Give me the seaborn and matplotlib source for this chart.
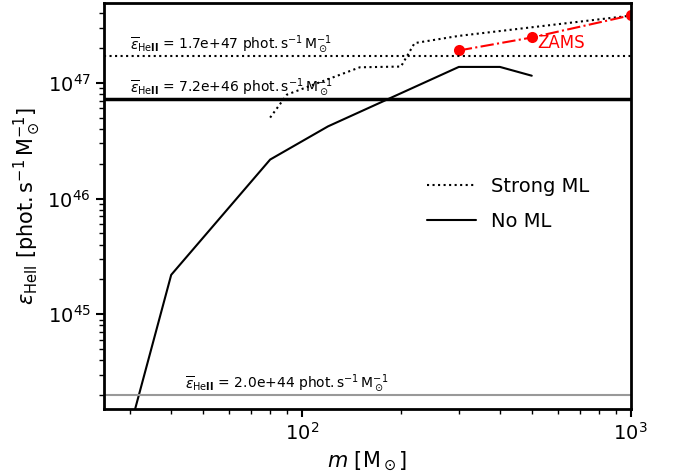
import matplotlib
matplotlib.use("Agg")
import matplotlib.pyplot as plt
import seaborn as sns
import numpy as np
import pandas as pd
from matplotlib.lines import Line2D

# ---- data ----
mass_noml = [30, 40, 80, 120, 300, 400, 500]
eps_noml = [1.05e44, 2.19e45, 2.17e46, 4.2e46, 1.37e47, 1.37e47, 1.15e47]

mass_strong = [80, 90, 150, 200, 220, 300, 1000]
eps_strong = [5.0e46, 7.9e46, 1.36e47, 1.38e47, 2.2e47, 2.54e47, 3.8e47]

mass_zams = [300, 500, 1000]
eps_zams = [1.9e47, 2.46e47, 3.82e47]

hline_vals = [1.7e47, 7.2e46, 2.0e44]
hline_labels = ["1.7e+47", "7.2e+46", "2.0e+44"]

legend_labels = ["Strong ML", "No ML"]

sns.set_style("ticks")
plt.rcParams["font.family"] = ["DejaVu Sans"]
plt.rcParams["mathtext.fontset"] = "dejavusans"
for k in ["text.color", "axes.labelcolor", "xtick.color", "ytick.color", "axes.edgecolor"]:
    plt.rcParams[k] = "black"

fig = plt.figure(figsize=(6.76, 4.75), dpi=100)
ax = fig.add_axes([0.154, 0.139, 0.779, 0.855])

df_noml = pd.DataFrame({"m": mass_noml, "eps": eps_noml})
df_strong = pd.DataFrame({"m": mass_strong, "eps": eps_strong})
df_zams = pd.DataFrame({"m": mass_zams, "eps": eps_zams})

sns.lineplot(data=df_noml, x="m", y="eps", ax=ax, color="black", lw=1.5,
             estimator=None, sort=False)
sns.lineplot(data=df_strong, x="m", y="eps", ax=ax, color="black", lw=1.5,
             linestyle=":", estimator=None, sort=False)
sns.lineplot(data=df_zams, x="m", y="eps", ax=ax, color="red", lw=1.5,
             linestyle="-.", marker="o", markersize=8, markeredgewidth=0,
             estimator=None, sort=False)

ax.set_xscale("log")
ax.set_yscale("log")
ax.set_xlim(25, 1000)
ax.set_ylim(1.52e44, 4.9e47)

# horizontal reference lines
ax.axhline(hline_vals[0], color="black", lw=1.5, ls=":")
ax.axhline(hline_vals[1], color="black", lw=2.5, ls="-")
ax.axhline(hline_vals[2], color="0.6", lw=1.5, ls="-")

def lab(v):
    return (r"$\overline{\varepsilon}_{\rm He\mathbf{II}}$ = " + v +
            r" phot.$\,$s$^{-1}\,$M$_\odot^{-1}$")

text_x = [30, 30, 44]
for xv, v, s in zip(text_x, hline_vals, hline_labels):
    ax.annotate(lab(s), xy=(xv, v), xytext=(0, 1.0), textcoords="offset points",
                fontsize=10, ha="left", va="bottom", color="black")

ax.annotate("ZAMS", xy=(mass_zams[1], eps_zams[1]), xytext=(4, -4),
            textcoords="offset points", color="red", fontsize=12,
            ha="left", va="center")

ax.set_xlabel(r"$m$ [M$_\odot$]", fontsize=15)
ax.set_ylabel(r"$\varepsilon_{\rm HeII}$ [phot.$\,$s$^{-1}\,$M$_\odot^{-1}$]", fontsize=15)
ax.tick_params(axis="both", which="major", labelsize=14, length=6, width=1.5)
ax.tick_params(axis="both", which="minor", length=3.5, width=1.0)
for sp in ax.spines.values():
    sp.set_linewidth(2)
    sp.set_color("black")

handles = [Line2D([], [], color="black", ls=":", lw=1.5),
           Line2D([], [], color="black", ls="-", lw=1.5)]
ax.legend(handles, legend_labels, loc="center left", bbox_to_anchor=(0.58, 0.505),
          frameon=False, fontsize=14, handlelength=2.5, labelspacing=0.8)

fig.savefig("out.png", dpi=100)
